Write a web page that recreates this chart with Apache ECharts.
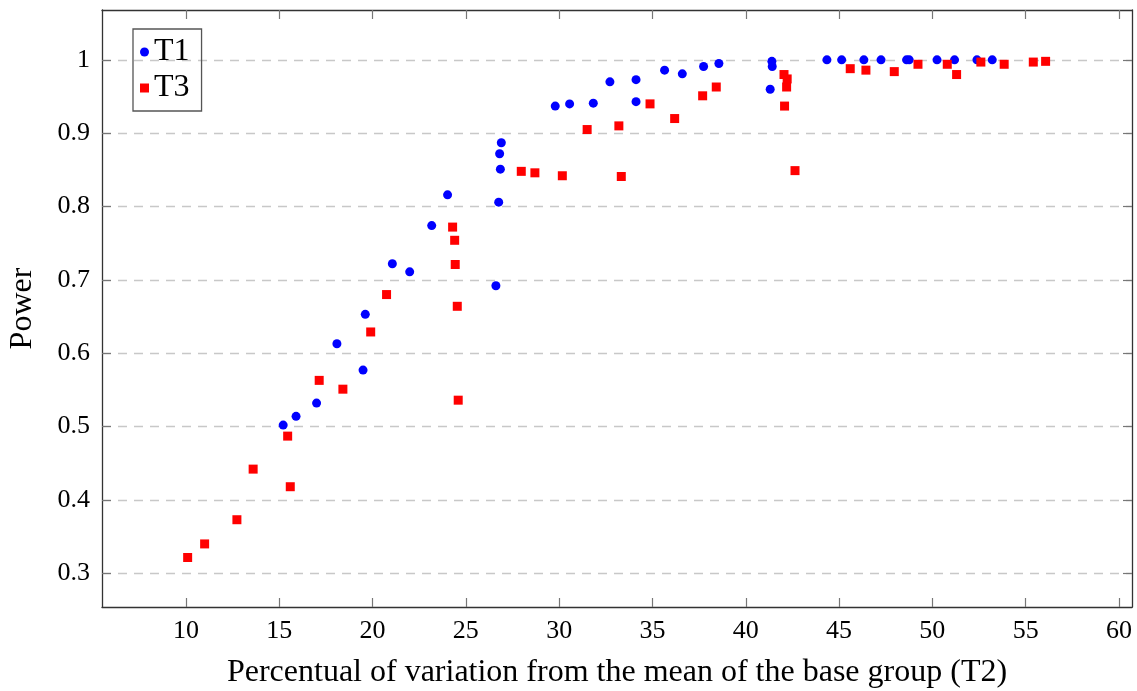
<!DOCTYPE html>
<html>
<head>
<meta charset="utf-8">
<title>Power</title>
<script src="https://cdn.jsdelivr.net/npm/echarts@6/dist/echarts.min.js"></script>
<style>
	html,body{margin:0;padding:0;background:#fff;}
	#chart{width:1137px;height:691px;}
</style>
</head>
<body>
<div id="chart"></div>
<script>
// T1 数据
const t1X = [15.21, 15.9, 17.0, 18.09, 19.49, 19.61, 21.06, 21.99, 23.17, 24.02,
	26.61, 26.76, 26.85, 26.81, 26.9, 29.79, 30.56, 31.83, 32.72, 34.12,
	34.12, 35.65, 36.6, 37.74, 38.56, 41.31, 41.4, 41.42, 44.35, 45.14,
	46.33, 47.25, 48.62, 48.76, 50.25, 51.19, 52.39, 53.21];
const t1Y = [0.502, 0.514, 0.532, 0.613, 0.577, 0.653, 0.722, 0.711, 0.774, 0.816,
	0.692, 0.806, 0.851, 0.872, 0.887, 0.937, 0.940, 0.941, 0.970, 0.943,
	0.973, 0.986, 0.981, 0.991, 0.995, 0.960, 0.998, 0.991, 1.0, 1.0,
	1.0, 1.0, 1.0, 1.0, 1.0, 1.0, 1.0, 1.0];
// T3 数据
const t3X = [10.09, 11.0, 12.73, 13.6, 15.45, 15.59, 17.14, 18.41, 19.9, 20.75,
	24.29, 24.4, 24.43, 24.54, 24.59, 27.97, 28.7, 30.17, 31.5, 33.2,
	33.33, 34.87, 36.19, 37.69, 38.42, 42.05, 42.22, 42.19, 42.08, 42.64,
	45.6, 46.44, 47.96, 49.23, 50.8, 51.3, 52.6, 53.85, 55.41, 56.07];
const t3Y = [0.3215, 0.340, 0.373, 0.442, 0.487, 0.418, 0.563, 0.551, 0.629, 0.680,
	0.772, 0.754, 0.721, 0.664, 0.536, 0.848, 0.846, 0.842, 0.905, 0.910,
	0.841, 0.940, 0.920, 0.951, 0.963, 0.980, 0.974, 0.963, 0.937, 0.849,
	0.988, 0.986, 0.984, 0.994, 0.994, 0.980, 0.997, 0.994, 0.997, 0.998];
// 刻度
const xTicks = [10, 15, 20, 25, 30, 35, 40, 45, 50, 55, 60];
const yTicks = [0.3, 0.4, 0.5, 0.6, 0.7, 0.8, 0.9, 1.0];

const FONT = 'Liberation Serif';
const X_MIN = 5.5, X_MAX = 60.7;
const Y_MIN = 0.254, Y_MAX = 1.068;

function toPairs(xs, ys){
	let arr = [];
	for(let i = 0; i < xs.length; i++){
		arr.push([xs[i], ys[i]]);
	}
	return arr;
}

function buildAxis(ticks, min, max, pos, showLabel, margin){
	return {
		type: 'value',
		position: pos,
		min: min,
		max: max,
		axisLine: {show: true, onZero: false, lineStyle: {color: '#333', width: 1.3}},
		axisTick: {show: true, inside: true, length: 9, customValues: ticks, lineStyle: {color: '#777', width: 1.2}},
		axisLabel: {show: showLabel, customValues: ticks, color: '#000', fontFamily: FONT, fontSize: 26, margin: margin},
		splitLine: {show: false}
	};
}

let dom = document.getElementById('chart');
let myChart = echarts.init(dom, null, {renderer: 'canvas'});

let xBottom = buildAxis(xTicks, X_MIN, X_MAX, 'bottom', true, 11);
xBottom.name = 'Percentual of variation from the mean of the base group (T2)';
xBottom.nameLocation = 'middle';
xBottom.nameGap = 50;
xBottom.nameTextStyle = {fontFamily: FONT, fontSize: 32, color: '#000'};
let xTop = buildAxis(xTicks, X_MIN, X_MAX, 'top', false, 8);

let yLeft = buildAxis(yTicks, Y_MIN, Y_MAX, 'left', true, 12);
yLeft.name = 'Power';
yLeft.nameLocation = 'middle';
yLeft.nameGap = 63;
yLeft.nameTextStyle = {fontFamily: FONT, fontSize: 32, color: '#000'};
yLeft.splitLine = {show: true, lineStyle: {color: '#c8c8c8', width: 1.3, type: [9, 7]}};
let yRight = buildAxis(yTicks, Y_MIN, Y_MAX, 'right', false, 8);

let option = {
	animation: false,
	backgroundColor: '#fff',
	grid: {left: 102, top: 10, width: 1030, height: 597, containLabel: false, outerBoundsMode: 'none'},
	legend: {
		orient: 'vertical',
		left: 133,
		top: 29,
		padding: [7, 12, 7, 7],
		itemGap: 4,
		itemWidth: 9,
		itemHeight: 9,
		borderColor: '#555',
		borderWidth: 1.3,
		borderRadius: 0,
		textStyle: {fontFamily: FONT, fontSize: 32, color: '#000'},
		data: [{name: 'T1', icon: 'circle'}, {name: 'T3', icon: 'rect'}]
	},
	xAxis: [xBottom, xTop],
	yAxis: [yLeft, yRight],
	series: [
		{
			name: 'T1',
			type: 'scatter',
			symbol: 'circle',
			symbolSize: 9,
			itemStyle: {color: '#0000ff', opacity: 1},
			data: toPairs(t1X, t1Y)
		},
		{
			name: 'T3',
			type: 'scatter',
			symbol: 'rect',
			symbolSize: 9,
			itemStyle: {color: '#ff0000', opacity: 1},
			data: toPairs(t3X, t3Y)
		}
	]
};

myChart.setOption(option);
window.addEventListener("resize",function(){
	myChart.resize();
});
</script>
</body>
</html>
